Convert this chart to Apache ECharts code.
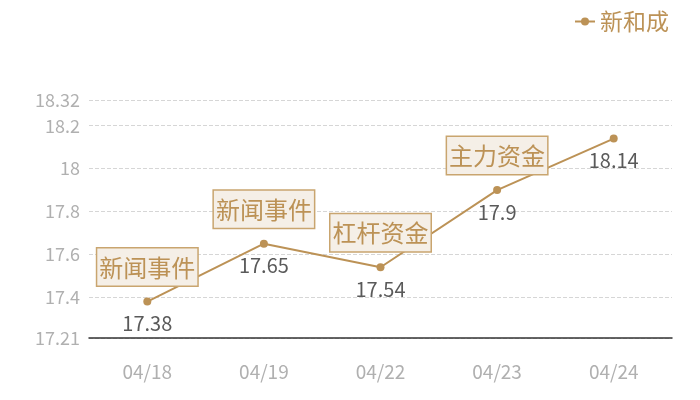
<!DOCTYPE html>
<html>
<head>
<meta charset="utf-8">
<script src="https://cdn.jsdelivr.net/npm/echarts@6/dist/echarts.min.js"></script>
<style>
  html, body { margin: 0; padding: 0; background: #fff; }
  #main { width: 700px; height: 400px; }
</style>
</head>
<body>
<div id="main"></div>
<script>
var dates = ['04/18', '04/19', '04/22', '04/23', '04/24'];
var prices = [17.38, 17.65, 17.54, 17.9, 18.14];
var events = ['新闻事件', '新闻事件', '杠杆资金', '主力资金', ''];
var yMin = 17.21;
var yMax = 18.32;

var gold = '#bc9256';
var chart = echarts.init(document.getElementById('main'));

// 事件标注
var marks = [];
for (var i = 0; i < dates.length; i++) {
  if (events[i]) {
    marks.push({ coord: [dates[i], prices[i]], value: events[i] });
  }
}

chart.setOption({
  textStyle: { fontFamily: 'Noto Sans CJK SC' },
  legend: {
    data: ['新和成'],
    right: 26,
    top: 5,
    itemWidth: 20,
    itemHeight: 10,
    itemGap: 10,
    textStyle: { color: gold, fontSize: 23, fontFamily: 'Noto Sans CJK SC' }
  },
  grid: { left: 89, right: 28, top: 100, bottom: 62 },
  xAxis: {
    type: 'category',
    data: dates,
    axisLine: { lineStyle: { color: '#333', width: 1.5 } },
    axisTick: { show: false },
    axisLabel: { color: '#b0b0b0', fontSize: 19, margin: 24 }
  },
  yAxis: {
    type: 'value',
    min: yMin,
    max: yMax,
    axisLine: { show: false },
    axisTick: { show: false },
    axisLabel: { color: '#b0b0b0', fontSize: 18, margin: 9 },
    splitLine: { lineStyle: { color: '#d6d6d6', type: 'dashed' } }
  },
  series: [{
    name: '新和成',
    type: 'line',
    data: prices,
    symbol: 'circle',
    symbolSize: 8,
    itemStyle: { color: gold },
    lineStyle: { color: gold, width: 2 },
    label: {
      show: true,
      position: 'bottom',
      distance: 8,
      color: '#5a5a5a',
      fontSize: 20
    },
    markPoint: {
      symbol: 'circle',
      symbolSize: 0,
      data: marks,
      label: {
        show: true,
        position: 'top',
        distance: 16,
        formatter: '{c}',
        color: gold,
        fontSize: 24,
        lineHeight: 32,
        backgroundColor: '#f5efe7',
        borderColor: '#c9a56f',
        borderWidth: 1.5,
        padding: [3, 2, 2, 2]
      }
    }
  }]
});
</script>
</body>
</html>
